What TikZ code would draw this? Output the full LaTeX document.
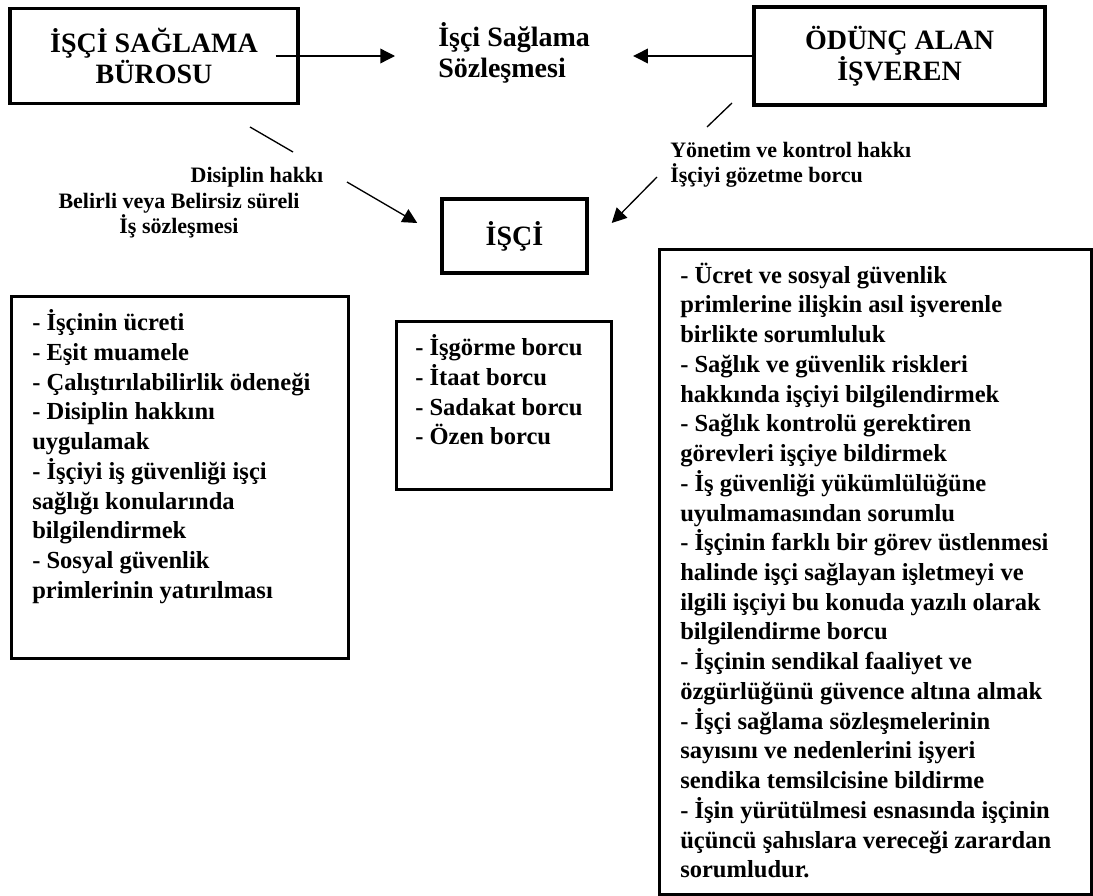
\documentclass[tikz,border=0pt]{standalone}
\usepackage{fontspec}
\setmainfont{Liberation Serif}
\usetikzlibrary{positioning, arrows.meta}

\begin{document}
\begin{tikzpicture}[x=0.75pt, y=-0.75pt,
    party/.style={draw, line width=2.6pt, align=center, inner sep=0pt,
        font=\fontsize{21}{23.5}\selectfont\bfseries},
    listbox/.style={draw, line width=2.1pt, anchor=north west, inner sep=0pt},
    listtext/.style={anchor=north west, inner sep=0pt, align=left,
        font=\fontsize{18.4}{22.3}\selectfont\bfseries},
    edgetext/.style={inner sep=0pt, font=\fontsize{16.5}{19}\selectfont\bfseries},
    arr/.style={-{Triangle[length=11pt, width=11pt]}, line width=1pt},
    link/.style={line width=1pt}]
    \useasboundingbox (0,0) rectangle (1093,896);

    % Parties
    \node[party, minimum width=216pt, minimum height=71.25pt] (bureau) at (154,56) {İŞÇİ SAĞLAMA\\BÜROSU};
    \node[party, minimum width=218.25pt, minimum height=73.5pt] (employer) at (899.5,56) {ÖDÜNÇ ALAN\\İŞVEREN};
    \node[party, minimum width=108.75pt, minimum height=55.5pt] (worker) at (514.5,236) {İŞÇİ};

    % Contract between the two firms
    \node[inner sep=0pt, align=left, anchor=west, font=\fontsize{21}{23.5}\selectfont\bfseries] (contract) at (438,53) {İşçi Sağlama\\Sözleşmesi};

    \draw[arr, shorten >=32.25pt] ([xshift=-18pt]bureau.east) -- (bureau.east -| contract.west);
    \draw[arr, shorten >=32.25pt] (employer.west) -- (employer.west -| contract.east);

    % Bureau to worker
    \coordinate (b1) at (250,127);
    \coordinate (b2) at (293,152);
    \coordinate (b3) at (347,182);
    \draw[link] (b1) -- (b2);
    \draw[arr] (b3) -- ([shift={(-23,-13)}]worker.west);
    \node[edgetext, anchor=base] (discipline) at (257,182) {Disiplin hakkı};
    \node[edgetext, align=center, anchor=north] (contractkind) at (179,193) {Belirli veya Belirsiz süreli\\İş sözleşmesi};

    % Employer to worker
    \coordinate (e1) at (732,103);
    \coordinate (e2) at (707,127);
    \coordinate (e3) at (657,177);
    \draw[link] (e1) -- (e2);
    \draw[arr] (e3) -- ([shift={(23,-13)}]worker.east);
    \node[edgetext, align=left, anchor=north west] (rights) at (670,142) {Yönetim ve kontrol hakkı\\İşçiyi gözetme borcu};

    % Duty lists
    \node[listbox, minimum width=252.75pt, minimum height=271.5pt] (bureaulist) at (10,295) {};
    \node[listtext] (bureauitems) at (32,309.5) {- İşçinin ücreti\\- Eşit muamele\\- Çalıştırılabilirlik ödeneği\\- Disiplin hakkını\\uygulamak\\- İşçiyi iş güvenliği işçi\\sağlığı konularında\\bilgilendirmek\\- Sosyal güvenlik\\primlerinin yatırılması};

    \node[listbox, minimum width=161.25pt, minimum height=126pt] (workerlist) at (395,320) {};
    \node[listtext] (workeritems) at (415,334.5) {- İşgörme borcu\\- İtaat borcu\\- Sadakat borcu\\- Özen borcu};

    \node[listbox, minimum width=324pt, minimum height=483.75pt] (employerlist) at (658,248) {};
    \node[listtext] (employeritems) at (680,262.5) {- Ücret ve sosyal güvenlik\\primlerine ilişkin asıl işverenle\\birlikte sorumluluk\\- Sağlık ve güvenlik riskleri\\hakkında işçiyi bilgilendirmek\\- Sağlık kontrolü gerektiren\\görevleri işçiye bildirmek\\- İş güvenliği yükümlülüğüne\\uyulmamasından sorumlu\\- İşçinin farklı bir görev üstlenmesi\\halinde işçi sağlayan işletmeyi ve\\ilgili işçiyi bu konuda yazılı olarak\\bilgilendirme borcu\\- İşçinin sendikal faaliyet ve\\özgürlüğünü güvence altına almak\\- İşçi sağlama sözleşmelerinin\\sayısını ve nedenlerini işyeri\\sendika temsilcisine bildirme\\- İşin yürütülmesi esnasında işçinin\\üçüncü şahıslara vereceği zarardan\\sorumludur.};
\end{tikzpicture}
\end{document}
